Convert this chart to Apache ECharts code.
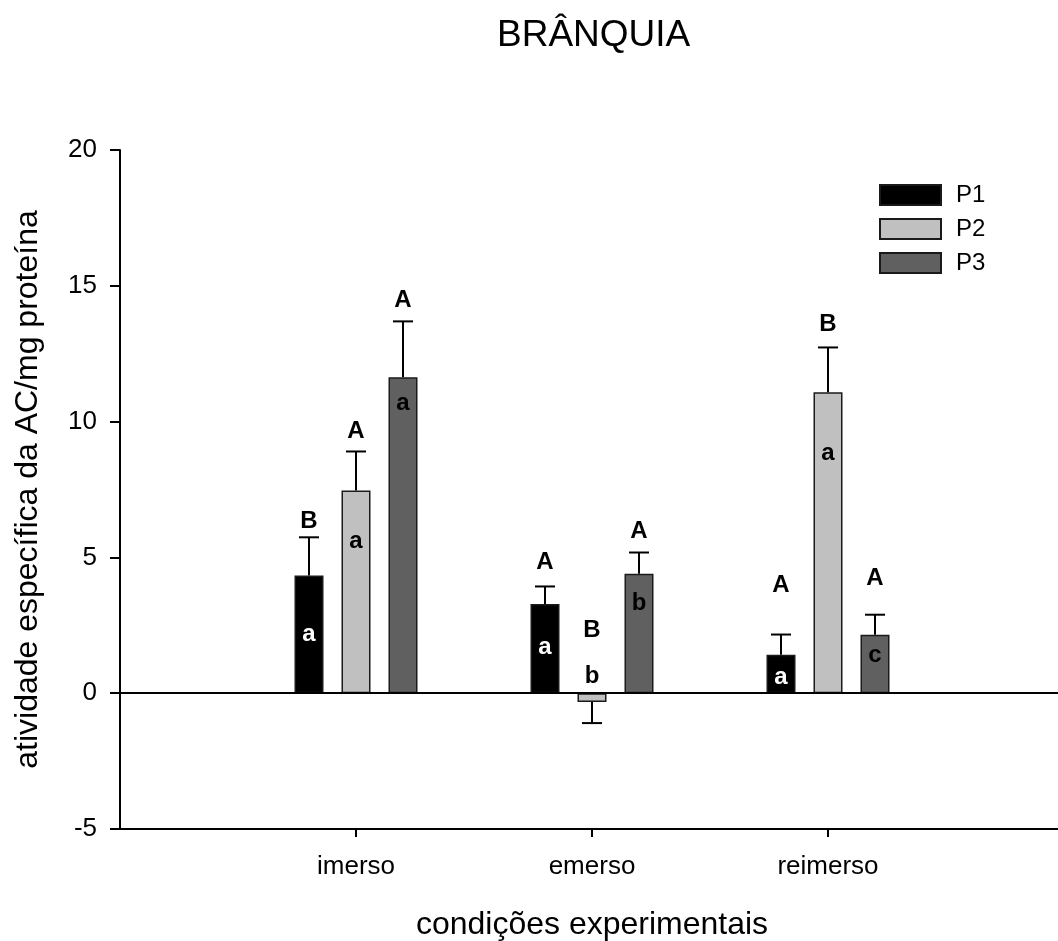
<!DOCTYPE html>
<html>
<head>
<meta charset="utf-8">
<script src="https://cdn.jsdelivr.net/npm/echarts@6/dist/echarts.min.js"></script>
<style>html,body{margin:0;padding:0;background:#fff}#c{width:1058px;height:941px}</style>
</head>
<body>
<div id="c"></div>
<script>
var categories = ['imerso', 'emerso', 'reimerso'];
var seriesNames = ['P1', 'P2', 'P3'];
var P1 = [4.33, 3.28, 1.42];
var P2 = [7.46, -0.32, 11.08];
var P3 = [11.63, 4.40, 2.15];
var P1err = [1.41, 0.65, 0.74];
var P2err = [1.44, 0.78, 1.65];
var P3err = [2.06, 0.78, 0.74];
var P1upper = ['B', 'A', 'A'];
var P2upper = ['A', 'B', 'B'];
var P3upper = ['A', 'A', 'A'];
var P1lower = ['a', 'a', 'a'];
var P2lower = ['a', 'b', 'a'];
var P3lower = ['a', 'b', 'c'];
// letter anchors (data units)
var P1upperAt = [6.33, 4.80, 3.96];
var P2upperAt = [9.63, 2.31, 13.57];
var P3upperAt = [14.46, 5.94, 4.22];
var P1lowerAt = [2.15, 1.68, 0.57];
var P2lowerAt = [5.59, 0.62, 8.82];
var P3lowerAt = [10.66, 3.30, 1.38];
var yTicks = [-5, 0, 5, 10, 15, 20];

var vals = [P1, P2, P3];
var errs = [P1err, P2err, P3err];
var uppers = [P1upper, P2upper, P3upper];
var lowers = [P1lower, P2lower, P3lower];
var upperAt = [P1upperAt, P2upperAt, P3upperAt];
var lowerAt = [P1lowerAt, P2lowerAt, P3lowerAt];
var colors = ['#000000', '#c0c0c0', '#606060'];
var lowerColors = ['#ffffff', '#000000', '#000000'];
var FONT = 'Liberation Sans, Arial, sans-serif';
var STEP = 47, BW = 29;

var chart = echarts.init(document.getElementById('c'), null, {renderer: 'canvas'});
var series = [];
vals.forEach(function (v, k) {
  series.push({
    name: seriesNames[k], type: 'bar', barWidth: BW, barGap: ((STEP - BW) / BW * 100) + '%',
    itemStyle: {color: colors[k], borderColor: '#1a1a1a', borderWidth: 1.5},
    data: v.map(function (d, i) { return [i + 1, d]; }),
    markLine: k === 0 ? {silent: true, symbol: 'none', label: {show: false},
      lineStyle: {color: '#000', width: 2, type: 'solid'}, data: [{yAxis: 0}]} : undefined,
    z: 2
  });
});
vals.forEach(function (v, k) {
  series.push({
    type: 'custom', z: 3,
    data: v.map(function (d, i) { return [i + 1, d, errs[k][i]]; }),
    renderItem: function (params, api) {
      var x = api.value(0), y = api.value(1), e = api.value(2);
      var end = y >= 0 ? y + e : y - e;
      var p0 = api.coord([x, y]), p1 = api.coord([x, end]);
      var cx = p0[0] + (k - 1) * STEP;
      return {type: 'group', children: [
        {type: 'line', shape: {x1: cx, y1: p0[1], x2: cx, y2: p1[1]}, style: {stroke: '#000', lineWidth: 2}},
        {type: 'line', shape: {x1: cx - 10, y1: p1[1], x2: cx + 10, y2: p1[1]}, style: {stroke: '#000', lineWidth: 2}}
      ]};
    }
  });
  series.push({
    type: 'custom', z: 4,
    data: v.map(function (d, i) { return [i + 1, upperAt[k][i], lowerAt[k][i]]; }),
    renderItem: function (params, api) {
      var i = params.dataIndex;
      var x = api.value(0);
      var pu = api.coord([x, api.value(1)]), pl = api.coord([x, api.value(2)]);
      var cx = pu[0] + (k - 1) * STEP;
      var lc = (vals[k][i] < 0) ? '#000' : lowerColors[k];
      return {type: 'group', children: [
        {type: 'text', x: cx, y: pu[1], style: {text: uppers[k][i], font: 'bold 24px ' + FONT, fill: '#000', align: 'center', verticalAlign: 'middle'}},
        {type: 'text', x: cx, y: pl[1], style: {text: lowers[k][i], font: 'bold 24px ' + FONT, fill: lc, align: 'center', verticalAlign: 'middle'}}
      ]};
    }
  });
});

chart.setOption({
  animation: false,
  backgroundColor: '#fff',
  title: {text: 'BRÂNQUIA', left: 497, top: 17, padding: 0, textStyle: {fontFamily: FONT, fontSize: 37, fontWeight: 'normal', color: '#000'}},
  legend: {
    orient: 'vertical', left: 879, top: 183, padding: 0, itemWidth: 61, itemHeight: 20, itemGap: 10,
    icon: 'rect', data: seriesNames,
    textStyle: {fontFamily: FONT, fontSize: 24, color: '#000', padding: [0, 0, 0, 10]}
  },
  grid: {left: 120, top: 150, width: 944, height: 679, containLabel: false, outerBoundsMode: 'none'},
  xAxis: {
    type: 'value', min: 0, max: 4, interval: 1,
    name: 'condições experimentais', nameLocation: 'middle', nameGap: 80,
    nameTextStyle: {fontFamily: FONT, fontSize: 32, color: '#000'},
    position: 'bottom',
    axisLine: {onZero: false, lineStyle: {color: '#000', width: 2}},
    axisTick: {show: true, length: 8, lineStyle: {color: '#000', width: 2},
      customValues: [1, 2, 3]},
    axisLabel: {fontFamily: FONT, fontSize: 26, color: '#000', margin: 25,
      customValues: [1, 2, 3],
      formatter: function (v) { return categories[Math.round(v) - 1] || ''; }},
    splitLine: {show: false}
  },
  yAxis: {
    type: 'value', min: -5, max: 20, interval: 5,
    name: 'atividade específica da AC/mg proteína', nameLocation: 'middle', nameGap: 76,
    nameTextStyle: {fontFamily: FONT, fontSize: 32, color: '#000'},
    axisLine: {show: true, lineStyle: {color: '#000', width: 2}},
    axisTick: {show: true, length: 10, lineStyle: {color: '#000', width: 2}},
    axisLabel: {fontFamily: FONT, fontSize: 26, color: '#000', margin: 23,
      formatter: function (v) { return yTicks.indexOf(v) >= 0 ? String(v) : ''; }},
    splitLine: {show: false}
  },
  series: series
});
</script>
</body>
</html>
